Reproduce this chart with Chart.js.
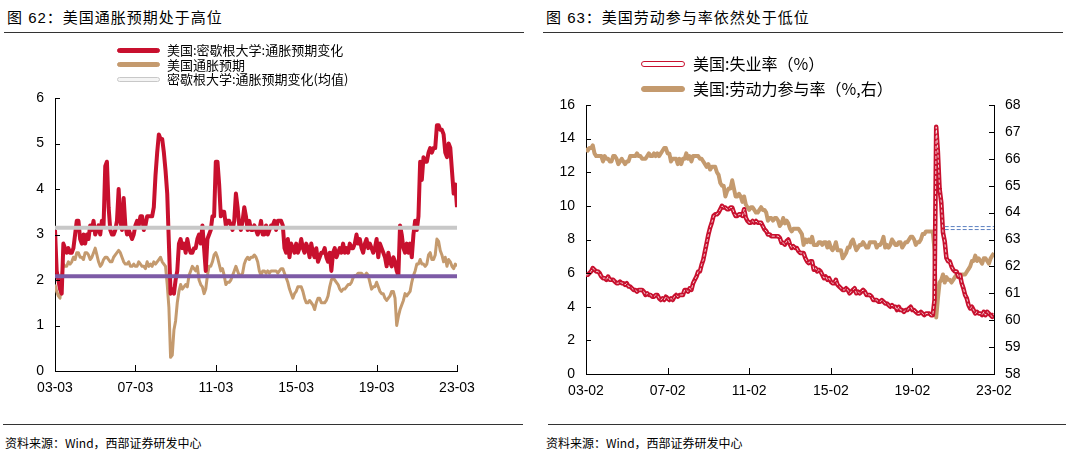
<!DOCTYPE html>
<html>
<head>
<meta charset="utf-8">
<script src="https://cdn.jsdelivr.net/npm/chart.js@4.4.1/dist/chart.umd.min.js"></script>
<style>
  body { margin:0; width:1068px; height:457px; background:#fff; position:relative; overflow:hidden;
         font-family:"Liberation Sans","Noto Sans CJK SC",sans-serif; color:#000; }
  .title { position:absolute; top:6px; font-size:15px; font-family:"Liberation Sans","Noto Sans CJK SC"; letter-spacing:1px; }
  .rule { position:absolute; height:0; border-top:1.5px solid #333; }
  .src { position:absolute; top:434px; font-size:12px; font-family:"Noto Sans CJK SC","Liberation Sans"; }
  .box { position:absolute; }
  .leg { position:absolute; font-family:"Noto Sans CJK SC"; white-space:nowrap; }
  .leg div { position:relative; }
  .sw { position:absolute; left:0; box-sizing:border-box; border-radius:3px; }
</style>
</head>
<body>
<div class="title" style="left:7px">图 62：美国通胀预期处于高位</div>
<div class="rule" style="left:4px; width:520px; top:32px"></div>
<div class="title" style="left:546px">图 63：美国劳动参与率依然处于低位</div>
<div class="rule" style="left:543px; width:520px; top:32px"></div>

<div class="box" style="left:0; top:0; width:534px; height:412px"><canvas id="c1"></canvas></div>
<div class="box" style="left:534px; top:0; width:534px; height:412px"><canvas id="c2"></canvas></div>

<div class="leg" id="leg1" style="left:117px; top:43px; font-size:13px; line-height:14.5px"></div>
<div class="leg" id="leg2" style="left:641px; top:51px; font-size:16px; line-height:25px"></div>

<div class="rule" style="left:3px; width:520px; top:424px"></div>
<div class="rule" style="left:548px; width:518px; top:424px"></div>
<div class="src" style="left:5px">资料来源：Wind，西部证券研发中心</div>
<div class="src" style="left:546px">资料来源：Wind，西部证券研发中心</div>

<script>
// ---- 图62 数据 (月度, 2003-03 ~ 2023-03) ----
const ticks1 = ['03-03', '07-03', '11-03', '15-03', '19-03', '23-03'];
const michigan = [
  3.1, 2.2, 2.0, 1.8, 1.7, 2.8, 2.7, 2.6, 2.7, 2.6,
  2.6, 2.7, 3.0, 3.3, 3.3, 2.9, 2.8, 3.0, 2.8, 3.0, 2.9, 3.2,
  3.1, 3.3, 3.0, 3.1, 3.2, 3.0, 3.3, 3.2, 4.5, 4.6, 3.6, 3.1,
  3.0, 3.0, 3.1, 3.3, 4.0, 3.3, 3.1, 3.8, 3.2, 3.0, 3.1, 3.0,
  2.9, 3.0, 3.2, 3.3, 3.2, 3.4, 3.4, 3.1, 3.2, 3.4, 3.4, 3.4,
  3.4, 3.6, 4.3, 4.8, 5.2, 5.1, 5.1, 4.8, 4.4, 3.9, 2.8, 1.7,
  1.8, 1.7, 2.0, 2.2, 2.8, 2.9, 2.7, 2.8, 2.6, 2.9, 2.7, 2.6,
  2.6, 2.7, 2.7, 2.9, 3.0, 2.8, 3.2, 2.7, 2.2, 2.9, 3.0, 3.1,
  3.4, 3.4, 4.6, 4.6, 4.1, 3.4, 3.5, 3.5, 3.2, 3.3, 3.3, 3.2,
  3.1, 3.3, 3.9, 3.6, 3.2, 3.1, 3.3, 3.6, 3.4, 3.1, 3.3, 3.1,
  3.1, 3.2, 3.1, 3.0, 3.1, 3.3, 3.0, 3.0, 3.2, 3.0, 3.1, 3.2,
  3.2, 3.3, 3.1, 3.3, 3.3, 3.3, 3.2, 2.7, 2.6, 2.9, 2.5, 2.8,
  2.7, 2.6, 2.8, 2.6, 2.7, 2.9, 2.7, 2.6, 2.8, 2.7, 2.5, 2.8,
  2.6, 2.5, 2.7, 2.4, 2.5, 2.6, 2.6, 2.7, 2.5, 2.4, 2.6, 2.2,
  2.6, 2.7, 2.5, 2.6, 2.7, 2.6, 2.8, 2.6, 2.7, 2.6, 2.8, 2.7,
  2.7, 2.8, 3.0, 2.8, 2.9, 2.7, 2.6, 2.8, 2.9, 2.7, 2.8, 2.7,
  2.6, 2.7, 2.9, 2.5, 2.8, 2.7, 2.6, 2.5, 2.3, 2.6, 2.4, 2.3,
  2.5, 2.4, 2.2, 2.1, 3.2, 3.0, 2.7, 2.6, 2.8, 2.6, 2.8, 2.5,
  3.0, 3.3, 3.1, 3.4, 4.6, 4.2, 4.7, 4.6, 4.6, 4.8, 4.9, 4.8,
  4.9, 4.9, 5.4, 5.4, 5.3, 5.3, 5.2, 4.8, 4.7, 5.0, 4.9, 4.4,
  3.9, 4.1, 3.6
];
const breakeven = [
  1.9, 1.75, 1.65, 1.6, 2.1, 2.35, 2.3, 2.3, 2.4, 2.35,
  2.4, 2.5, 2.45, 2.6, 2.6, 2.5, 2.5, 2.45, 2.6, 2.6, 2.55, 2.45,
  2.5, 2.6, 2.7, 2.55, 2.4, 2.3, 2.35, 2.45, 2.5, 2.5, 2.45, 2.4,
  2.4, 2.5, 2.55, 2.6, 2.65, 2.6, 2.5, 2.4, 2.35, 2.35, 2.4, 2.3,
  2.3, 2.35, 2.3, 2.3, 2.4, 2.35, 2.3, 2.3, 2.25, 2.4, 2.3, 2.35,
  2.3, 2.4, 2.35, 2.4, 2.45, 2.5, 2.4, 2.35, 2.3, 1.9, 1.4, 0.3,
  0.35, 0.9, 1.1, 1.5, 1.75, 1.9, 1.8, 1.85, 1.9, 1.85, 2.1, 2.2,
  2.3, 2.25, 2.2, 2.3, 2.0, 1.9, 1.85, 1.7, 1.8, 2.1, 2.3, 2.3,
  2.4, 2.55, 2.6, 2.5, 2.35, 2.2, 2.25, 2.1, 1.9, 1.95, 1.95, 2.0,
  2.1, 2.2, 2.3, 2.2, 2.1, 2.1, 2.15, 2.35, 2.45, 2.5, 2.45, 2.5,
  2.5, 2.55, 2.5, 2.4, 2.2, 2.1, 2.2, 2.2, 2.15, 2.2, 2.15, 2.2,
  2.2, 2.2, 2.2, 2.15, 2.2, 2.25, 2.25, 2.15, 2.05, 1.95, 1.8, 1.7,
  1.6, 1.7, 1.75, 1.85, 1.85, 1.85, 1.75, 1.6, 1.5, 1.5, 1.55, 1.5,
  1.45, 1.35, 1.5, 1.6, 1.6, 1.5, 1.5, 1.5, 1.55, 1.65, 1.85, 2.0,
  2.05, 2.0, 1.95, 1.9, 1.8, 1.75, 1.8, 1.8, 1.85, 1.9, 1.9, 1.95,
  2.05, 2.1, 2.1, 2.15, 2.15, 2.15, 2.1, 2.1, 2.15, 2.1, 1.95, 1.8,
  1.85, 1.85, 1.95, 1.85, 1.75, 1.7, 1.7, 1.6, 1.55, 1.6, 1.65, 1.75,
  1.75, 1.6, 1.0, 1.2, 1.35, 1.45, 1.55, 1.7, 1.65, 1.7, 1.75, 1.95,
  2.1, 2.2, 2.35, 2.35, 2.45, 2.35, 2.35, 2.3, 2.35, 2.55, 2.6, 2.45,
  2.45, 2.55, 2.9, 2.85, 2.65, 2.55, 2.4, 2.5, 2.3, 2.45, 2.4, 2.3,
  2.25, 2.35, 2.3
];
const michiganMean = 3.15;
const targetLine = 2.08;

// ---- 图63 数据 (月度, 2003-02 ~ 2023-02) ----
const ticks2 = ['03-02', '07-02', '11-02', '15-02', '19-02', '23-02'];
const unemp = [
  5.9, 5.9, 6.0, 6.1, 6.3, 6.2, 6.1, 6.1, 6.0, 5.8, 5.7,
  5.7, 5.6, 5.8, 5.6, 5.6, 5.6, 5.5, 5.4, 5.4, 5.5, 5.4, 5.4,
  5.3, 5.4, 5.2, 5.2, 5.1, 5.0, 5.0, 4.9, 5.0, 5.0, 5.0, 4.9,
  4.7, 4.8, 4.7, 4.7, 4.6, 4.6, 4.7, 4.7, 4.5, 4.4, 4.5, 4.4,
  4.6, 4.5, 4.4, 4.5, 4.4, 4.6, 4.7, 4.6, 4.7, 4.7, 4.7, 5.0,
  5.0, 4.9, 5.1, 5.0, 5.4, 5.6, 5.8, 6.1, 6.1, 6.5, 6.8, 7.3,
  7.8, 8.3, 8.7, 9.0, 9.4, 9.5, 9.5, 9.6, 9.8, 10.0, 9.9, 9.9,
  9.8, 9.8, 9.9, 9.9, 9.6, 9.4, 9.4, 9.5, 9.5, 9.4, 9.8, 9.3,
  9.1, 9.0, 9.0, 9.1, 9.0, 9.1, 9.0, 9.0, 9.0, 8.8, 8.6, 8.5,
  8.3, 8.3, 8.2, 8.2, 8.2, 8.2, 8.2, 8.1, 7.8, 7.8, 7.7, 7.9,
  8.0, 7.7, 7.5, 7.6, 7.5, 7.5, 7.3, 7.2, 7.2, 7.2, 6.9, 6.7,
  6.6, 6.7, 6.7, 6.2, 6.3, 6.1, 6.2, 6.1, 5.9, 5.7, 5.8, 5.6,
  5.7, 5.5, 5.4, 5.4, 5.6, 5.3, 5.2, 5.1, 5.0, 5.0, 5.1, 5.0,
  4.8, 4.9, 5.0, 5.1, 4.8, 4.9, 4.8, 4.9, 5.0, 4.9, 4.7, 4.7,
  4.7, 4.6, 4.4, 4.4, 4.4, 4.3, 4.3, 4.4, 4.3, 4.2, 4.2, 4.1,
  4.0, 4.1, 4.0, 4.0, 3.8, 4.0, 3.8, 3.8, 3.7, 3.8, 3.8, 3.9,
  4.0, 3.8, 3.8, 3.7, 3.6, 3.6, 3.7, 3.6, 3.5, 3.6, 3.6, 3.6,
  3.5, 3.5, 4.4, 14.7, 13.2, 11.0, 10.2, 8.4, 7.9, 6.9, 6.7, 6.7,
  6.4, 6.2, 6.1, 6.1, 5.8, 5.9, 5.4, 5.1, 4.7, 4.5, 4.1, 3.9,
  4.0, 3.8, 3.6, 3.7, 3.6, 3.6, 3.5, 3.7, 3.5, 3.7, 3.6, 3.5,
  3.4, 3.6
];
const lfpr = [
  66.4, 66.3, 66.4, 66.4, 66.5, 66.2, 66.1, 66.1, 66.1, 66.1, 65.9,
  66.1, 66.0, 66.0, 65.9, 65.9, 66.1, 66.1, 66.0, 65.8, 65.9, 66.0, 65.9,
  65.8, 65.9, 65.9, 66.1, 66.1, 66.1, 66.1, 66.2, 66.1, 66.1, 66.0, 66.0,
  66.0, 66.1, 66.2, 66.1, 66.1, 66.2, 66.1, 66.2, 66.1, 66.2, 66.3, 66.4,
  66.4, 66.2, 66.2, 65.9, 66.0, 66.0, 66.0, 65.8, 66.0, 65.8, 66.0, 66.0,
  66.2, 66.0, 66.1, 65.9, 66.1, 66.1, 66.1, 66.1, 66.0, 66.0, 65.9, 65.8,
  65.7, 65.8, 65.6, 65.7, 65.7, 65.7, 65.5, 65.4, 65.1, 65.0, 65.0, 64.6,
  64.8, 64.9, 64.9, 65.2, 64.9, 64.6, 64.6, 64.7, 64.6, 64.4, 64.6, 64.3,
  64.2, 64.1, 64.2, 64.2, 64.1, 64.0, 64.0, 64.1, 64.2, 64.1, 64.1, 64.0,
  63.7, 63.8, 63.8, 63.7, 63.8, 63.8, 63.7, 63.5, 63.6, 63.8, 63.6, 63.7,
  63.6, 63.4, 63.3, 63.4, 63.4, 63.4, 63.4, 63.3, 63.2, 62.8, 63.0, 62.9,
  63.0, 62.9, 63.1, 62.8, 62.8, 62.8, 62.9, 62.9, 62.8, 62.9, 62.9, 62.7,
  62.9, 62.7, 62.6, 62.7, 62.9, 62.6, 62.6, 62.6, 62.3, 62.4, 62.5, 62.7,
  62.7, 62.9, 63.0, 62.8, 62.6, 62.7, 62.8, 62.8, 62.9, 62.8, 62.7, 62.7,
  62.9, 62.9, 62.9, 62.9, 62.7, 62.8, 62.8, 62.9, 63.1, 62.7, 62.8, 62.7,
  62.8, 63.0, 62.9, 62.8, 62.8, 62.9, 62.9, 62.7, 62.8, 62.9, 62.9, 63.0,
  63.1, 63.1, 63.0, 62.8, 62.9, 62.9, 63.0, 63.2, 63.2, 63.3, 63.3, 63.3,
  63.3, 63.3, 62.6, 60.1, 60.8, 61.4, 61.5, 61.7, 61.4, 61.6, 61.5, 61.5,
  61.4, 61.5, 61.6, 61.7, 61.6, 61.6, 61.7, 61.7, 61.7, 61.8, 61.9, 62.0,
  62.2, 62.2, 62.4, 62.2, 62.3, 62.2, 62.1, 62.3, 62.3, 62.2, 62.1, 62.3,
  62.4, 62.5
];
// 图中右侧的蓝色虚线残留
const dashStart = 211, dashHi = 63.48, dashLo = 63.37;

const RED = '#C8102E', TAN = '#C49A6E', GRAY = '#C8C8C8', PURPLE = '#7D5BA6', BLUE = '#5B7FC0';
const tickFont = { family: 'Liberation Sans', size: 14 };

const pts = arr => arr.map((v, i) => ({ x: i, y: v }));
const flat = (v, a, b) => [{ x: a, y: v }, { x: b, y: v }];

// inward ticks, drawn from the scales themselves
const innerTicks = {
  id: 'innerTicks',
  afterDraw(chart) {
    const ctx = chart.ctx, a = chart.chartArea;
    ctx.save(); ctx.strokeStyle = '#000'; ctx.lineWidth = 1;
    Object.values(chart.scales).forEach(s => {
      s.ticks.forEach(t => {
        const p = Math.round(s.getPixelForValue(t.value)) + 0.5;
        ctx.beginPath();
        if (s.axis === 'x') { ctx.moveTo(p, a.bottom); ctx.lineTo(p, a.bottom - 6); }
        else if (s.position === 'left') { ctx.moveTo(a.left, p); ctx.lineTo(a.left + 5, p); }
        else { ctx.moveTo(a.right, p); ctx.lineTo(a.right - 5, p); }
        ctx.stroke();
      });
    });
    ctx.restore();
  }
};

function xAxis(labels, h) {
  return {
    type: 'linear', min: 0, max: 240,
    ticks: { stepSize: 48, autoSkip: false, maxRotation: 0, padding: 9, color: '#000', font: tickFont,
             callback: v => labels[v / 48] },
    grid: { display: true, drawOnChartArea: false, drawTicks: false },
    border: { color: '#000', width: 1 },
    afterFit: s => { s.height = h; }
  };
}
function yAxis(pos, min, max, step, w) {
  return {
    position: pos, min: min, max: max,
    ticks: { stepSize: step, padding: 11, color: '#000', font: tickFont },
    grid: { display: true, drawOnChartArea: false, drawTicks: false },
    border: { color: '#000', width: 1 },
    afterFit: s => { s.width = w; }
  };
}
const line = (data, color, width, extra) => Object.assign({
  data: data, borderColor: color, borderWidth: width, pointRadius: 0, tension: 0,
  borderJoinStyle: 'round', fill: false
}, extra || {});

new Chart(document.getElementById('c1'), {
  type: 'line',
  data: { datasets: [
    line(flat(targetLine, 0, 240), PURPLE, 4),
    line(flat(michiganMean, 0, 240), GRAY, 4),
    line(pts(michigan), RED, 4),
    line(pts(breakeven), TAN, 3)
  ] },
  options: {
    responsive: true, maintainAspectRatio: false, animation: false,
    layout: { padding: { top: 98, right: 77, left: 0, bottom: 0 } },
    plugins: { legend: { display: false }, tooltip: { enabled: false } },
    scales: { x: xAxis(ticks1, 41), y: yAxis('left', 0, 6, 1, 55) }
  },
  plugins: [innerTicks]
});

new Chart(document.getElementById('c2'), {
  type: 'line',
  data: { datasets: [
    line(flat(dashHi, dashStart, 240), BLUE, 1, { borderDash: [4, 2], yAxisID: 'y2' }),
    line(flat(dashLo, dashStart, 240), BLUE, 1, { borderDash: [4, 2], yAxisID: 'y2' }),
    line(pts(unemp), '#fff', 0.8, { yAxisID: 'y', borderDash: [3, 2] }),
    line(pts(unemp), RED, 4.5, { yAxisID: 'y' }),
    line(pts(lfpr), TAN, 4, { yAxisID: 'y2' })
  ] },
  options: {
    responsive: true, maintainAspectRatio: false, animation: false,
    layout: { padding: { top: 105, right: 0, left: 0, bottom: 0 } },
    plugins: { legend: { display: false }, tooltip: { enabled: false } },
    scales: { x: xAxis(ticks2, 38), y: yAxis('left', 0, 16, 2, 52), y2: yAxis('right', 58, 68, 1, 74) }
  },
  plugins: [innerTicks]
});

// legends
function legend(id, items, swW, swH, textLeft) {
  const el = document.getElementById(id);
  items.forEach(it => {
    const row = document.createElement('div');
    row.style.paddingLeft = textLeft + 'px';
    row.textContent = it.text;
    const sw = document.createElement('span');
    sw.className = 'sw';
    sw.style.width = swW + 'px'; sw.style.height = swH + 'px';
    sw.style.top = 'calc(50% - ' + swH / 2 + 'px)';
    sw.style.background = it.fill;
    sw.style.border = '1.5px solid ' + it.stroke;
    row.appendChild(sw);
    el.appendChild(row);
  });
}
legend('leg1', [
  { text: '美国:密歇根大学:通胀预期变化', fill: RED, stroke: RED },
  { text: '美国通胀预期', fill: TAN, stroke: TAN },
  { text: '密歇根大学:通胀预期变化(均值)', fill: '#f4f4f4', stroke: GRAY }
], 43, 5, 50);
legend('leg2', [
  { text: '美国:失业率（%）', fill: '#fff', stroke: RED },
  { text: '美国:劳动力参与率（%,右）', fill: TAN, stroke: TAN }
], 44, 6, 52);
</script>
</body>
</html>
